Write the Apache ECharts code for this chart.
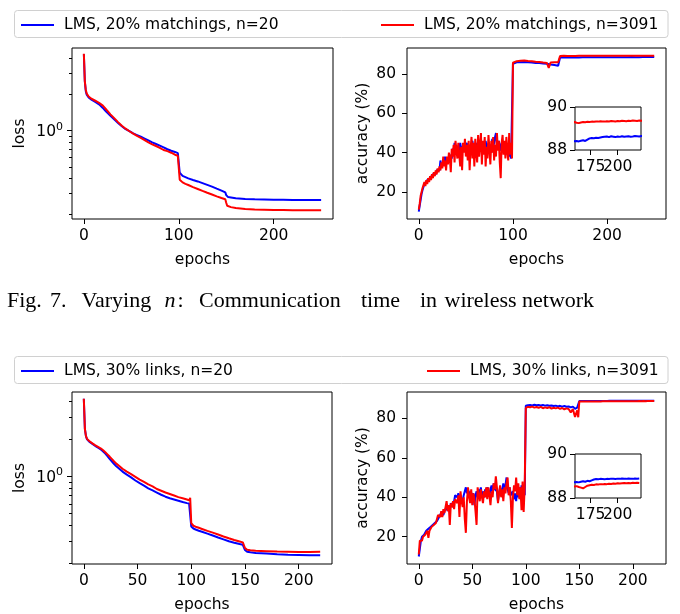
<!DOCTYPE html>
<html>
<head>
<meta charset="utf-8">
<script src="https://cdn.jsdelivr.net/npm/echarts@6/dist/echarts.min.js"></script>
<style>
  html, body { margin: 0; padding: 0; background: #fff; }
  #chart { width: 680px; height: 614px; }
</style>
</head>
<body>
<div id="chart"></div>
<script>
// ---------- series names ----------
const nameTopSmall = 'LMS, 20% matchings, n=20';
const nameTopLarge = 'LMS, 20% matchings, n=3091';
const nameBotSmall = 'LMS, 30% links, n=20';
const nameBotLarge = 'LMS, 30% links, n=3091';

// epoch lists (x positions at which values were logged)
function span(a, b, step) { const r = []; for (let e = a; e <= b; e += step) r.push(e); return r; }

// ---------- loss, 20% matchings ----------
const lossEpochsTop = [0, 1, 2, 3, 4, 5, 6,
  8, 10, 12, 14, 16, 18, 20, 22, 24, 26, 28, 30,
  33, 36,
  40, 44, 48, 52, 56, 60, 64, 68, 72, 76, 80, 84, 88, 92, 96,
  99, 100, 101, 102, 104, 107, 110,
  115, 120, 125, 130, 135, 140, 145,
  149, 150, 151, 152, 155, 160,
  170, 180, 190, 200, 210, 220, 230, 240, 250];
const lossTopSmall = [4.35, 2.6, 2.15, 2.0, 1.95, 1.9, 1.87,
  1.82, 1.78, 1.74, 1.70, 1.66, 1.61, 1.55, 1.49, 1.43, 1.38, 1.33, 1.28,
  1.22, 1.16,
  1.09, 1.03, 0.99, 0.95, 0.92, 0.89, 0.86, 0.83, 0.80, 0.775, 0.75, 0.725, 0.70, 0.68, 0.665,
  0.65, 0.64, 0.445, 0.432, 0.42, 0.41, 0.40,
  0.388, 0.377, 0.365, 0.353, 0.341, 0.328, 0.316,
  0.305, 0.29, 0.282, 0.279, 0.277, 0.273,
  0.269, 0.267, 0.266, 0.265, 0.265, 0.264, 0.264, 0.264, 0.264];
const lossTopLarge = [4.4, 2.6, 2.2, 2.05, 1.98, 1.93, 1.9,
  1.85, 1.81, 1.78, 1.74, 1.71, 1.67, 1.62, 1.56, 1.49, 1.43, 1.37, 1.32,
  1.25, 1.18,
  1.10, 1.04, 0.99, 0.945, 0.905, 0.87, 0.835, 0.80, 0.77, 0.745, 0.72, 0.69, 0.675, 0.655, 0.63,
  0.618, 0.61, 0.39, 0.38, 0.37, 0.36, 0.352,
  0.338, 0.326, 0.314, 0.303, 0.293, 0.283, 0.274,
  0.268, 0.25, 0.236, 0.233, 0.23, 0.226,
  0.222, 0.22, 0.219, 0.218, 0.218, 0.217, 0.217, 0.217, 0.217];

// ---------- accuracy, 20% matchings ----------
const accEpochsTop = [...span(0, 99, 1), ...span(100, 148, 2), 149, ...span(150, 250, 2)];
const accTopSmall = [
  10, 13, 16, 19, 21, 22, 24, 23, 25, 26,
  25, 26, 27, 28, 27, 29, 28, 30, 29, 31,
  30, 32, 31, 36, 33, 34, 32, 35, 38, 34,
  36, 35, 37, 36, 39, 37, 42, 40, 45, 41,
  44, 40, 43, 41, 45, 42, 40, 44, 41, 43,
  42, 45, 41, 44, 40, 43, 42, 46, 41, 44,
  43, 40, 45, 42, 44, 41, 45, 43, 40, 44,
  42, 46, 43, 41, 45, 42, 44, 40, 47, 43,
  45, 48, 50, 44, 42, 46, 43, 41, 45, 42,
  40, 44, 41, 43, 39, 42, 38, 40, 37, 38,
  85.3, 85.8, 86.0, 85.7, 86.1, 85.9, 86.2, 85.8, 86.0, 86.3,
  85.9, 86.1, 85.7, 86.0, 85.6, 85.9, 85.4, 85.8, 85.3, 85.6,
  84.9, 85.5, 84.6, 85.2, 84.3,
  84.0,
  88.45, 88.42, 88.44, 88.40, 88.43, 88.41, 88.42, 88.40, 88.43, 88.45,
  88.42, 88.48, 88.54, 88.56, 88.55, 88.57, 88.56, 88.58, 88.60, 88.62,
  88.63, 88.60, 88.64, 88.62, 88.60, 88.63, 88.61, 88.64, 88.62, 88.63,
  88.64, 88.62, 88.63, 88.65, 88.64, 88.63, 88.65, 88.64, 88.66, 88.65,
  88.64, 88.66, 88.65, 88.67, 88.66, 88.65, 88.67, 88.66, 88.67, 88.66,
  88.67];
const accTopLarge = [
  11, 14, 18, 20, 22, 21, 25, 23, 26, 24,
  27, 25, 28, 26, 29, 27, 30, 28, 31, 29,
  32, 30, 33, 31, 35, 32, 38, 33, 36, 31,
  38, 34, 40, 37, 30, 42, 38, 44, 35, 46,
  41, 37, 45, 39, 33, 43, 31, 45, 40, 47,
  38, 44, 36, 46, 31, 42, 48, 37, 45, 33,
  47, 40, 35, 49, 38, 44, 50, 34, 46, 39,
  48, 33, 43, 37, 49, 42, 34, 46, 40, 48,
  36, 44, 38, 50, 41, 46, 35, 27, 45, 49,
  39, 46, 37, 48, 41, 36, 50, 39, 45, 37,
  85.8, 86.4, 86.6, 86.3, 86.8, 86.5, 86.9, 86.4, 86.7, 87.0,
  86.6, 86.8, 86.3, 86.7, 86.2, 86.5, 85.9, 86.4, 85.7, 83.2,
  85.9, 85.4, 86.1, 85.6, 86.0,
  86.2,
  89.24, 89.27, 89.29, 89.26, 89.28, 89.30, 89.27, 89.25, 89.28, 89.30,
  89.29, 89.31, 89.30, 89.32, 89.31, 89.33, 89.32, 89.34, 89.33, 89.32,
  89.34, 89.33, 89.35, 89.34, 89.33, 89.35, 89.34, 89.36, 89.35, 89.34,
  89.36, 89.35, 89.37, 89.36, 89.35, 89.37, 89.36, 89.37, 89.36, 89.38,
  89.37, 89.36, 89.38, 89.37, 89.38, 89.37, 89.39, 89.38, 89.37, 89.39,
  89.38];

// ---------- loss, 30% links ----------
const lossEpochsBot = [0, 1, 2, 3, 4, 5, 6,
  8, 10, 12, 14, 16, 18, 20, 22, 24, 26, 28, 30,
  33, 36,
  40, 44, 48, 52, 56, 60, 64, 68, 72, 76, 80, 84, 88, 92, 96,
  98, 99, 100, 101, 102, 104, 107, 110,
  115, 120, 125, 130, 135, 140, 145,
  148, 149, 150, 151, 152, 155, 160,
  170, 180, 190, 200, 210, 220];
const lossBotSmall = [4.2, 2.4, 2.1, 1.98, 1.93, 1.9, 1.87,
  1.82, 1.77, 1.72, 1.68, 1.64, 1.58, 1.52, 1.45, 1.38, 1.32, 1.26, 1.21,
  1.15, 1.09,
  1.03, 0.98, 0.925, 0.88, 0.84, 0.80, 0.77, 0.74, 0.71, 0.685, 0.665, 0.65, 0.635, 0.62, 0.608,
  0.603, 0.60, 0.395, 0.385, 0.38, 0.373, 0.365, 0.358,
  0.346, 0.334, 0.322, 0.311, 0.30, 0.292, 0.285,
  0.281, 0.278, 0.255, 0.249, 0.247, 0.245, 0.242,
  0.239, 0.236, 0.234, 0.233, 0.232, 0.232];
const lossBotLarge = [4.2, 2.4, 2.1, 2.0, 1.95, 1.92, 1.89,
  1.84, 1.79, 1.75, 1.71, 1.67, 1.62, 1.56, 1.50, 1.44, 1.38, 1.32, 1.27,
  1.21, 1.15,
  1.09, 1.04, 0.99, 0.94, 0.90, 0.86, 0.83, 0.79, 0.765, 0.74, 0.72, 0.70, 0.68, 0.665, 0.65,
  0.64, 0.67, 0.42, 0.405, 0.40, 0.393, 0.385, 0.377,
  0.364, 0.352, 0.340, 0.328, 0.317, 0.307, 0.299,
  0.294, 0.29, 0.265, 0.258, 0.256, 0.254, 0.252,
  0.25, 0.248, 0.247, 0.246, 0.246, 0.247];

// ---------- accuracy, 30% links ----------
const accEpochsBot = [...span(0, 99, 1), ...span(100, 148, 2), 149, ...span(150, 220, 2)];
const accBotSmall = [
  10, 14, 18, 20, 21, 21, 22, 23, 23, 24,
  24, 25, 25, 26, 26, 27, 28, 28, 29, 30,
  31, 32, 33, 31, 33, 34, 35, 33, 36, 34,
  37, 36, 35, 38, 41, 42, 40, 42, 41, 39,
  40, 38, 41, 43, 45, 42, 44, 41, 43, 40,
  39, 42, 36, 41, 43, 40, 44, 42, 45, 41,
  43, 40, 44, 42, 45, 43, 41, 44, 46, 42,
  47, 44, 45, 43, 38, 42, 45, 41, 44, 47,
  43, 46, 50, 44, 42, 45, 41, 40, 43, 39,
  42, 38, 44, 40, 45, 39, 46, 38, 44, 41,
  86.3, 86.6, 86.7, 86.5, 86.8, 86.6, 86.7, 86.5, 86.7, 86.4,
  86.6, 86.3, 86.5, 86.2, 86.4, 86.0, 86.3, 85.9, 86.2, 85.8,
  86.0, 85.5, 85.9, 84.8, 85.4,
  84.5,
  88.68, 88.70, 88.72, 88.69, 88.71, 88.72, 88.73, 88.71, 88.74, 88.76,
  88.74, 88.78, 88.76, 88.80, 88.84, 88.86, 88.85, 88.87, 88.86, 88.85,
  88.87, 88.86, 88.88, 88.87, 88.86, 88.88, 88.87, 88.89, 88.88, 88.87,
  88.89, 88.88, 88.87, 88.89, 88.88, 88.89];
const accBotLarge = [
  11, 18, 19, 18, 20, 19, 21, 22, 23, 19.5,
  23, 24, 25, 24, 26, 27, 27, 29, 31, 32,
  30, 33, 30, 34, 32, 35, 38, 33, 36, 26,
  37, 35, 38, 34, 39, 40, 37, 41, 30, 43,
  38, 35, 40, 29, 22, 38, 45, 40, 37, 44,
  36, 42, 39, 33, 26, 45, 41, 38, 44, 40,
  37, 43, 40, 45, 39, 45, 41, 36, 43, 40,
  47, 44, 50.6, 45, 37, 42, 46, 40, 44, 38,
  45, 42, 47, 50, 41, 45, 38, 24.4, 40, 46,
  43, 50, 41, 47, 39, 45, 33.4, 48, 32.6, 46,
  85.2, 85.8, 85.6, 85.9, 85.4, 85.7, 85.3, 85.8, 85.1, 85.5,
  85.2, 85.6, 84.9, 85.3, 85.0, 85.4, 84.8, 85.2, 84.5, 85.0,
  84.7, 83.0, 84.6, 80.7, 84.0,
  80.5,
  88.55, 88.52, 88.54, 88.50, 88.53, 88.52, 88.54, 88.50, 88.47, 88.44,
  88.50, 88.56, 88.58, 88.60, 88.59, 88.62, 88.61, 88.63, 88.62, 88.64,
  88.63, 88.65, 88.64, 88.66, 88.65, 88.67, 88.66, 88.67, 88.68, 88.67,
  88.68, 88.67, 88.69, 88.68, 88.69, 88.68];

// ---------- tick values ----------
const xTicksTop = [0, 100, 200];
const xTicksBot = [0, 50, 100, 150, 200];
const accTicks = [20, 40, 60, 80];
const lossMajorTicks = [1];
const lossMinorTicks = [0.2, 0.3, 0.4, 0.5, 0.6, 0.7, 0.8, 0.9, 2, 3, 4];
const insetXTicks = [175, 200];
const insetXLabelsA = [175];
const insetXLabelsB = [200];
const insetYTicks = [88, 90];

// ---------- styling ----------
const FONT = 'DejaVu Sans';
const FS = 15.5;
const BLUE = '#0000ff';
const RED = '#ff0000';

function frame(left, top, width, height) {
  return { left, top, width, height, show: true, borderColor: '#000', borderWidth: 1,
           backgroundColor: '#fff', containLabel: false };
}

function axis(gridIndex, type, min, max, ticks, margin, extra) {
  const a = {
    gridIndex, type, min, max,
    axisLine: { show: false, onZero: false },
    splitLine: { show: false },
    minorTick: { show: false },
    axisTick: { show: true, inside: false, length: 5, customValues: ticks,
                lineStyle: { color: '#000', width: 1 } },
    axisLabel: { show: true, customValues: ticks, color: '#000', fontFamily: FONT,
                 fontSize: FS, margin: margin, hideOverlap: false, interval: 0,
                 showMinLabel: true, showMaxLabel: true },
    nameTextStyle: { color: '#000', fontFamily: FONT, fontSize: FS }
  };
  if (type === 'log') a.logBase = 10;
  return Object.assign(a, extra || {});
}

// inset x axes: ticks on one axis, and the two labels split over two axes so that
// the closely packed labels are both kept
function insetXAxis(gridIndex, labels, withTicks) {
  const a = axis(gridIndex, 'value', 160.5, 221.6, insetXTicks, 9, { position: 'bottom' });
  a.axisLabel.customValues = labels;
  if (!withTicks) a.axisTick = { show: false };
  return a;
}

const xName = { name: 'epochs', nameLocation: 'middle', nameGap: 33 };

function line(name, color, xi, yi, xs, ys) {
  return {
    type: 'line', name, xAxisIndex: xi, yAxisIndex: yi,
    data: xs.map((x, i) => [x, ys[i]]),
    showSymbol: false, symbol: 'none', clip: true, color,
    lineStyle: { color, width: 2 }, itemStyle: { color },
    emphasis: { disabled: true }, animation: false
  };
}

const logLabel = {
  show: true, customValues: lossMajorTicks, margin: 9,
  formatter: v => (Math.abs(v - 1) < 1e-9 ? '{b|10}{s|0}' : ''),
  rich: {
    b: { fontFamily: FONT, fontSize: FS, color: '#000', lineHeight: 19, verticalAlign: 'bottom' },
    s: { fontFamily: FONT, fontSize: 11, color: '#000', lineHeight: 11, verticalAlign: 'top' }
  }
};

function minorLogAxis(gridIndex, min, max) {
  return axis(gridIndex, 'log', min, max, lossMinorTicks, 9, {
    position: 'left',
    axisLabel: { show: false },
    axisTick: { show: true, inside: false, length: 3, customValues: lossMinorTicks,
                lineStyle: { color: '#000', width: 1 } }
  });
}

const legendBase = {
  orient: 'horizontal', padding: 0, icon: 'rect', itemWidth: 33, itemHeight: 2,
  selectedMode: false,
  textStyle: { fontFamily: FONT, fontSize: FS, color: '#000', padding: [0, 0, 0, 5] }
};

// caption words and where each begins
const captionFont = '"Liberation Serif", "Times New Roman", serif';
const captionSize = 22;
const captionBaseline = 307.5;
const captionWords = [
  ['Fig.', 7, false], ['7.', 50, false], ['Varying', 81.5, false], ['n', 164.5, true],
  [':', 177.5, false], ['Communication', 199, false], ['time', 361, false], ['in', 420, false],
  ['wireless', 444.5, false], ['network', 522, false]
];

const chart = echarts.init(document.getElementById('chart'), null, { renderer: 'canvas' });

const option = {
  animation: false,
  backgroundColor: '#fff',
  grid: [
    frame(72, 48, 261, 171),    // 0: loss, matchings
    frame(407, 48, 259, 171),   // 1: accuracy, matchings
    frame(575, 107, 66, 43),    // 2: zoomed accuracy, matchings
    frame(72, 392, 260, 177),   // 3: loss, links
    frame(407, 392, 259, 177),  // 4: accuracy, links
    frame(575, 454, 66, 44)     // 5: zoomed accuracy, links
  ],
  xAxis: [
    axis(0, 'value', -12.5, 262.5, xTicksTop, 9, Object.assign({ position: 'bottom' }, xName)),
    axis(1, 'value', -12.5, 262.5, xTicksTop, 9, Object.assign({ position: 'bottom' }, xName)),
    insetXAxis(2, insetXLabelsA, true),
    axis(3, 'value', -11, 231, xTicksBot, 9, Object.assign({ position: 'bottom' }, xName)),
    axis(4, 'value', -11, 231, xTicksBot, 9, Object.assign({ position: 'bottom' }, xName)),
    insetXAxis(5, insetXLabelsA, true),
    insetXAxis(2, insetXLabelsB, false),
    insetXAxis(5, insetXLabelsB, false)
  ],
  yAxis: [
    axis(0, 'log', 0.183, 4.91, lossMajorTicks, 9,
      { position: 'left', name: 'loss', nameLocation: 'middle', nameGap: 44, axisLabel: logLabel }),
    axis(1, 'value', 6.2, 93.3, accTicks, 11,
      { position: 'left', name: 'accuracy (%)', nameLocation: 'middle', nameGap: 36 }),
    axis(2, 'value', 88, 90, insetYTicks, 8, { position: 'left' }),
    axis(3, 'log', 0.197, 4.76, lossMajorTicks, 9,
      { position: 'left', name: 'loss', nameLocation: 'middle', nameGap: 44, axisLabel: logLabel }),
    axis(4, 'value', 6.2, 93.3, accTicks, 11,
      { position: 'left', name: 'accuracy (%)', nameLocation: 'middle', nameGap: 36 }),
    axis(5, 'value', 88, 90, insetYTicks, 8, { position: 'left' }),
    minorLogAxis(0, 0.183, 4.91),
    minorLogAxis(3, 0.197, 4.76)
  ],
  legend: [
    Object.assign({}, legendBase, { data: [nameTopSmall], left: 21, top: 17 }),
    Object.assign({}, legendBase, { data: [nameTopLarge], left: 381, top: 17 }),
    Object.assign({}, legendBase, { data: [nameBotSmall], left: 21, top: 363 }),
    Object.assign({}, legendBase, { data: [nameBotLarge], left: 427, top: 363 })
  ],
  graphic: [
    { type: 'rect', z: 0, silent: true,
      shape: { x: 14.5, y: 10.5, width: 653.5, height: 27, r: 3 },
      style: { fill: 'rgba(255,255,255,0.8)', stroke: '#d0d0d0', lineWidth: 1 } },
    { type: 'rect', z: 0, silent: true,
      shape: { x: 14.5, y: 356.5, width: 653.5, height: 27, r: 3 },
      style: { fill: 'rgba(255,255,255,0.8)', stroke: '#d0d0d0', lineWidth: 1 } }
  ].concat(captionWords.map(([t, x, it]) => ({
    type: 'text', silent: true, x: x, y: captionBaseline - 0.305 * captionSize,
    style: { text: t, fill: '#000', verticalAlign: 'middle', align: 'left',
             font: (it ? 'italic ' : '') + captionSize + 'px ' + captionFont }
  }))),
  series: [
    line(nameTopSmall, BLUE, 0, 0, lossEpochsTop, lossTopSmall),
    line(nameTopLarge, RED, 0, 0, lossEpochsTop, lossTopLarge),
    line(nameTopSmall, BLUE, 1, 1, accEpochsTop, accTopSmall),
    line(nameTopLarge, RED, 1, 1, accEpochsTop, accTopLarge),
    line(nameTopSmall, BLUE, 2, 2, accEpochsTop, accTopSmall),
    line(nameTopLarge, RED, 2, 2, accEpochsTop, accTopLarge),
    line(nameBotSmall, BLUE, 3, 3, lossEpochsBot, lossBotSmall),
    line(nameBotLarge, RED, 3, 3, lossEpochsBot, lossBotLarge),
    line(nameBotSmall, BLUE, 4, 4, accEpochsBot, accBotSmall),
    line(nameBotLarge, RED, 4, 4, accEpochsBot, accBotLarge),
    line(nameBotSmall, BLUE, 5, 5, accEpochsBot, accBotSmall),
    line(nameBotLarge, RED, 5, 5, accEpochsBot, accBotLarge)
  ]
};

chart.setOption(option);
</script>
</body>
</html>
